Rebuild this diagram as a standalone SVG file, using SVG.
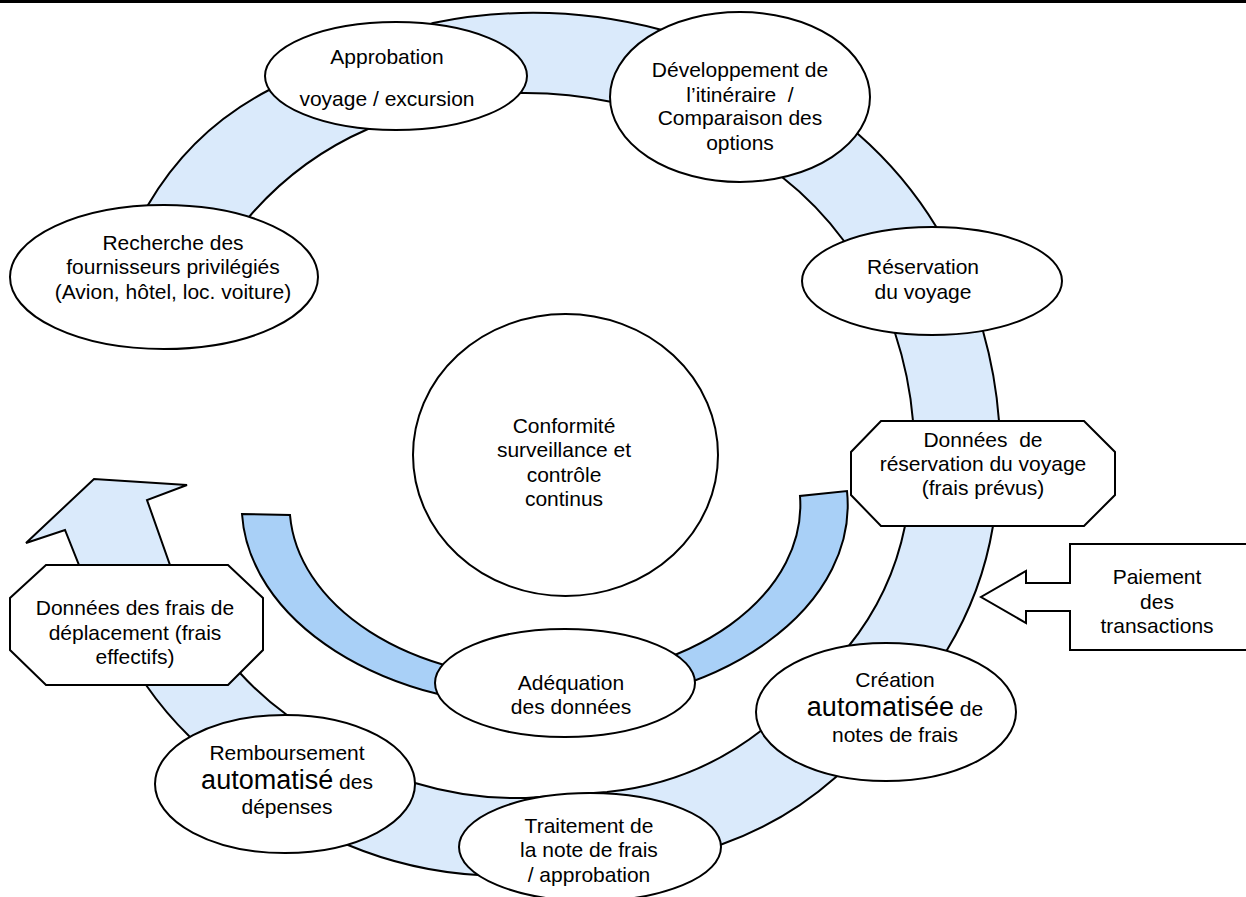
<svg xmlns="http://www.w3.org/2000/svg" width="1246" height="897" viewBox="0 0 1246 897">
<style>
.node{fill:#fff;stroke:#000;stroke-width:2}
.band{fill:#DAEAFB;stroke:#000;stroke-width:2;stroke-linejoin:miter}
.u{fill:#A9D0F7;stroke:#000;stroke-width:2}
.t{font-family:"Liberation Sans",Arial,sans-serif;font-size:21px;text-anchor:middle;fill:#000}
.big{font-size:27px}
.pre{white-space:pre}
</style>
<rect x="0" y="0" width="1246" height="3" fill="#000"/>
<g id="connectors">
<path class="band" d="M200,285 L148,205 A300 300 0 0 1 269,90 L433,23 A500 500 0 0 1 662,30 L858,134 A400 400 0 0 1 937,228 L983,331 A450 450 0 0 1 999,421 L993,526 A350 350 0 0 1 947,650 L836,777 A350 350 0 0 1 720,845 L590,890 L478,875 A400 400 0 0 1 348,845 L190,737 A350 350 0 0 1 146,685 L79,565 L65,530 L26,543 L94,479 L187,485 L147,500 L170,565 L240,673 A300 300 0 0 0 287,715 L415,783 A350 350 0 0 0 526,798 L607,792 A300 300 0 0 0 762,730 L848,647 A280 280 0 0 0 905,526 L913,421 A380 380 0 0 0 895,333 L844,241 A330 330 0 0 0 782,177 L612,102 A420 420 0 0 0 518,93 L368,129 A330 330 0 0 0 249,217 Z"/>
<path class="u" d="M242,514 A303 202 0 0 0 545,707 A303 202 0 0 0 847,491 L800,496 A255 174 0 0 1 545,679 A255 174 0 0 1 290,515 Z"/>
</g>
<g id="recherche">
<ellipse class="node" cx="164" cy="277" rx="154" ry="72"/>
<text class="t" x="173" y="250">Recherche des</text>
<text class="t" x="173" y="274">fournisseurs privilégiés</text>
<text class="t" x="173" y="299">(Avion, hôtel, loc. voiture)</text>
</g>
<g id="approbation">
<ellipse class="node" cx="396" cy="76" rx="131" ry="54"/>
<text class="t" x="387" y="64">Approbation</text>
<text class="t" x="387" y="106">voyage / excursion</text>
</g>
<g id="developpement">
<ellipse class="node" cx="740" cy="97" rx="130" ry="85"/>
<text class="t" x="740" y="77">Développement de</text>
<text class="t pre" x="740" y="102">l’itinéraire  /</text>
<text class="t" x="740" y="125">Comparaison des</text>
<text class="t" x="740" y="150">options</text>
</g>
<g id="reservation">
<ellipse class="node" cx="932" cy="281" rx="130" ry="54"/>
<text class="t" x="923" y="274">Réservation</text>
<text class="t" x="923" y="299">du voyage</text>
</g>
<g id="donnees-reservation">
<polygon class="node" points="881,421 1084,421 1115,452 1115,495 1084,526 881,526 851,495 851,452"/>
<text class="t pre" x="983" y="447">Données  de</text>
<text class="t" x="983" y="471">réservation du voyage</text>
<text class="t" x="983" y="495">(frais prévus)</text>
</g>
<g id="paiement">
<polygon class="node" points="1252,544 1070,544 1070,583 1026,583 1026,571 981,597 1026,623 1026,611 1070,611 1070,650 1252,650"/>
<text class="t" x="1157" y="584">Paiement</text>
<text class="t" x="1157" y="609">des</text>
<text class="t" x="1157" y="633">transactions</text>
</g>
<g id="creation">
<ellipse class="node" cx="886" cy="712" rx="130" ry="69"/>
<text class="t" x="895" y="687">Création</text>
<text class="t" x="895" y="716"><tspan class="big">automatisée</tspan> de</text>
<text class="t" x="895" y="742">notes de frais</text>
</g>
<g id="traitement">
<ellipse class="node" cx="590" cy="847" rx="131" ry="54"/>
<text class="t" x="589" y="833">Traitement de</text>
<text class="t" x="589" y="857">la note de frais</text>
<text class="t" x="589" y="882">/ approbation</text>
</g>
<g id="remboursement">
<ellipse class="node" cx="285" cy="784" rx="130" ry="69"/>
<text class="t" x="287" y="760">Remboursement</text>
<text class="t" x="287" y="789"><tspan class="big">automatisé</tspan> des</text>
<text class="t" x="287" y="814">dépenses</text>
</g>
<g id="donnees-frais">
<polygon class="node" points="46,565 228,565 263,598 263,650 228,685 46,685 10,650 10,598"/>
<text class="t" x="135" y="615">Données des frais de</text>
<text class="t" x="135" y="640">déplacement (frais</text>
<text class="t" x="135" y="664">effectifs)</text>
</g>
<g id="adequation">
<ellipse class="node" cx="565" cy="683" rx="130" ry="54"/>
<text class="t" x="571" y="690">Adéquation</text>
<text class="t" x="571" y="714">des données</text>
</g>
<g id="conformite">
<ellipse class="node" cx="565.5" cy="455" rx="152.5" ry="141"/>
<text class="t" x="564" y="433">Conformité</text>
<text class="t" x="564" y="457">surveillance et</text>
<text class="t" x="564" y="482">contrôle</text>
<text class="t" x="564" y="506">continus</text>
</g>
</svg>
